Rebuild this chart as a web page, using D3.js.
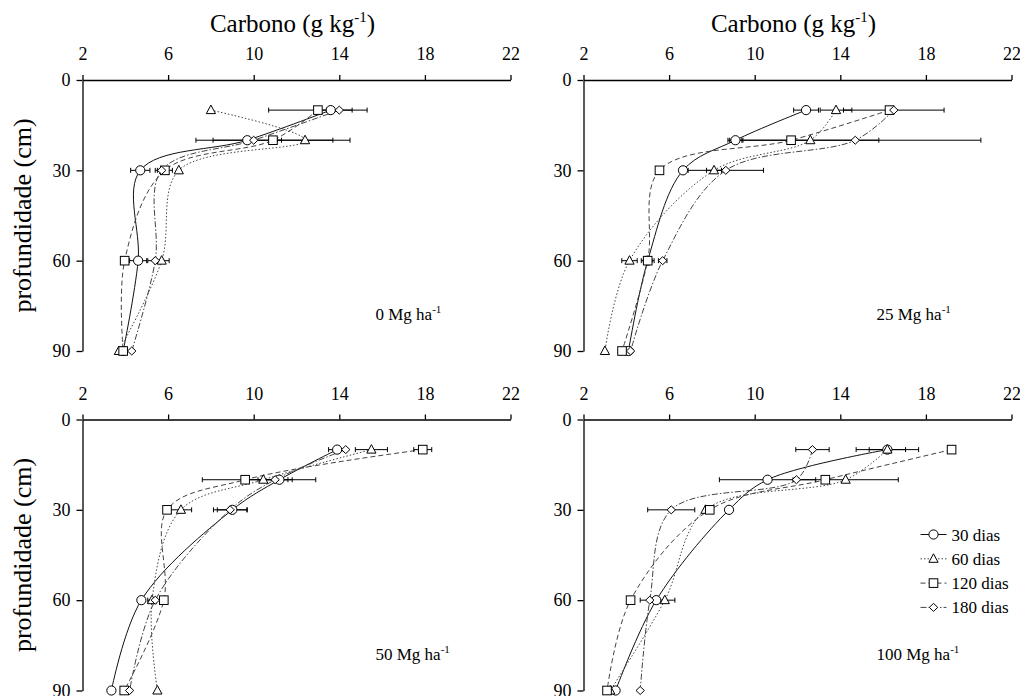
<!DOCTYPE html>
<html>
<head>
<meta charset="utf-8">
<script src="https://cdn.jsdelivr.net/npm/d3@7"></script>
<style>
  body{margin:0;background:#fff;}
  svg{display:block;}
</style>
</head>
<body>
<svg id="chart" width="1020" height="696"></svg>
<script>
// profundidade (cm)
var depths=[10,20,30,60,90];
var series=['30 dias','60 dias','120 dias','180 dias'];
var xTicks=[2,6,10,14,18,22];
var yTicks=[0,30,60,90];
var doses=['0','25','50','100'];

// carbono (g/kg), one row per series (30, 60, 120, 180 dias)
var carbon0=[
  [13.6,9.7,4.7,4.6,3.9],
  [8.0,12.4,6.5,5.7,3.7],
  [13.0,10.9,5.85,3.97,3.9],
  [14.0,10.0,5.7,5.4,4.3]
];
var carbon25=[
  [12.4,9.1,6.65,5.0,4.1],
  [13.8,12.6,8.1,4.15,3.0],
  [16.3,11.7,5.55,5.0,3.8],
  [16.5,14.7,8.65,5.7,4.2]
];
var carbon50=[
  [13.9,11.2,9.0,4.75,3.35],
  [15.5,10.45,6.6,5.25,5.5],
  [17.9,9.6,5.95,5.8,3.95],
  [14.3,11.0,8.9,5.4,4.2]
];
var carbon100=[
  [16.2,10.6,8.8,5.4,3.5],
  [16.2,14.25,7.7,5.8,3.25],
  [19.2,13.3,7.9,4.2,3.1],
  [12.7,11.95,6.1,5.1,4.65]
];
// half-width of the error bars (g/kg)
var err0=[
  [0.45,1.6,0.45,0.4,0.15],
  [0,1.3,0,0.35,0],
  [2.3,3.6,0.35,0,0.2],
  [0.6,0,0.3,0.35,0]
];
var err25=[
  [0.58,0.35,0,0,0.1],
  [0.74,3.2,0.35,0.36,0],
  [0,0,0,0.3,0],
  [2.35,5.87,1.76,0.2,0.1]
];
var err50=[
  [0.4,1.7,0.7,0,0],
  [0.75,0,0.5,0.2,0],
  [0.42,2.0,0,0,0],
  [0,0.8,0.78,0,0]
];
var err100=[
  [1.46,2.25,0,0,0],
  [0.85,2.46,0,0.47,0],
  [0,0,0,0,0],
  [0.78,0,1.1,0.45,0]
];

var panels=[
  {dose:doses[0],c:carbon0,e:err0,x:82.5,y:80,title:true,ylab:true},
  {dose:doses[1],c:carbon25,e:err25,x:583.5,y:80,title:true,ylab:false},
  {dose:doses[2],c:carbon50,e:err50,x:82.5,y:419.5,title:false,ylab:true},
  {dose:doses[3],c:carbon100,e:err100,x:583.5,y:419.5,title:false,ylab:false,legend:true}
];

var W=428,H=271;
var FONT='Liberation Serif, Tinos, Times New Roman, Times, Noto Serif, DejaVu Serif, serif';
var dashes=[null,'1.5,2','5,3','6,2,1.5,2'];
var strokes=['#111','#444','#444','#444'];

var svg=d3.select('#chart').style('font-family',FONT);

function marker(g,k,cx,cy){
  if(k==0){
    g.append('circle').attr('cx',cx).attr('cy',cy).attr('r',4.6)
      .attr('fill','#fff').attr('stroke','#000').attr('stroke-width',1);
  }else if(k==1){
    g.append('path').attr('d','M'+cx+','+(cy-5)+'L'+(cx+4.6)+','+(cy+3.5)+'L'+(cx-4.6)+','+(cy+3.5)+'Z')
      .attr('fill','#fff').attr('stroke','#000').attr('stroke-width',1);
  }else if(k==2){
    g.append('rect').attr('x',cx-4.3).attr('y',cy-4.3).attr('width',8.6).attr('height',8.6)
      .attr('fill','#fff').attr('stroke','#000').attr('stroke-width',1);
  }else{
    g.append('path').attr('d','M'+cx+','+(cy-4)+'L'+(cx+4.2)+','+cy+'L'+cx+','+(cy+4)+'L'+(cx-4.2)+','+cy+'Z')
      .attr('fill','#fff').attr('stroke','#000').attr('stroke-width',1);
  }
}

panels.forEach(function(p){
  var x=d3.scaleLinear().domain([2,22]).range([0,W]);
  var y=d3.scaleLinear().domain([0,90]).range([0,H]);
  var g=svg.append('g').attr('transform','translate('+p.x+','+p.y+')');

  var xa=g.append('g').call(d3.axisTop(x).tickValues(xTicks).tickSize(5).tickSizeOuter(0).tickPadding(15));
  var ya=g.append('g').call(d3.axisLeft(y).tickValues(yTicks).tickSize(6).tickSizeOuter(0).tickPadding(6));
  [xa,ya].forEach(function(a){
    a.attr('font-family',FONT).attr('font-size',18);
    a.selectAll('path,line').attr('stroke','#000').attr('stroke-width',1.3);
    a.selectAll('text').style('font-family',FONT).attr('fill','#000');
  });

  // lines (smoothed)
  var line=d3.line()
    .x(function(d){return x(d[0]);})
    .y(function(d){return y(d[1]);})
    .curve(d3.curveCatmullRom.alpha(0.5));
  p.c.forEach(function(row,k){
    var pts=row.map(function(v,i){return [v,depths[i]];});
    g.append('path').attr('d',line(pts)).attr('fill','none')
      .attr('stroke',strokes[k]).attr('stroke-width',1)
      .attr('stroke-dasharray',dashes[k]);
  });

  // error bars
  p.c.forEach(function(row,k){
    row.forEach(function(v,i){
      var e=p.e[k][i];
      if(!e) return;
      var yy=y(depths[i]);
      var eb=g.append('g').attr('stroke','#000').attr('stroke-width',1);
      eb.append('line').attr('x1',x(v-e)).attr('x2',x(v+e)).attr('y1',yy).attr('y2',yy);
      eb.append('line').attr('x1',x(v-e)).attr('x2',x(v-e)).attr('y1',yy-2.5).attr('y2',yy+2.5);
      eb.append('line').attr('x1',x(v+e)).attr('x2',x(v+e)).attr('y1',yy-2.5).attr('y2',yy+2.5);
    });
  });

  // markers
  p.c.forEach(function(row,k){
    row.forEach(function(v,i){ marker(g,k,x(v),y(depths[i])); });
  });

  // dose label
  var lab=g.append('text').attr('x',293).attr('y',240).style('font-family',FONT).attr('font-size',17);
  lab.append('tspan').text(p.dose+' Mg ha');
  lab.append('tspan').attr('dy',-7).attr('font-size',11).text('-1');

  if(p.title){
    var t=g.append('text').attr('x',W/2-4).attr('y',-48).attr('text-anchor','middle')
      .style('font-family',FONT).attr('font-size',25);
    t.append('tspan').text('Carbono (g kg');
    t.append('tspan').attr('dy',-10).attr('font-size',15).text('-1');
    t.append('tspan').attr('dy',10).text(')');
  }
  if(p.ylab){
    svg.append('text').attr('transform','translate(31,'+(p.y+H/2)+') rotate(-90)')
      .attr('text-anchor','middle').style('font-family',FONT).attr('font-size',26).text('profundidade (cm)');
  }
  if(p.legend){
    var lg=g.append('g').attr('transform','translate(337,115)');
    series.forEach(function(s,k){
      var ly=k*24.3;
      lg.append('line').attr('x1',0).attr('x2',26).attr('y1',ly).attr('y2',ly)
        .attr('stroke',strokes[k]).attr('stroke-width',1).attr('stroke-dasharray',dashes[k]);
      marker(lg,k,13,ly);
      lg.append('text').attr('x',31).attr('y',ly+6).style('font-family',FONT).attr('font-size',17).text(s);
    });
  }
});
</script>
</body>
</html>
